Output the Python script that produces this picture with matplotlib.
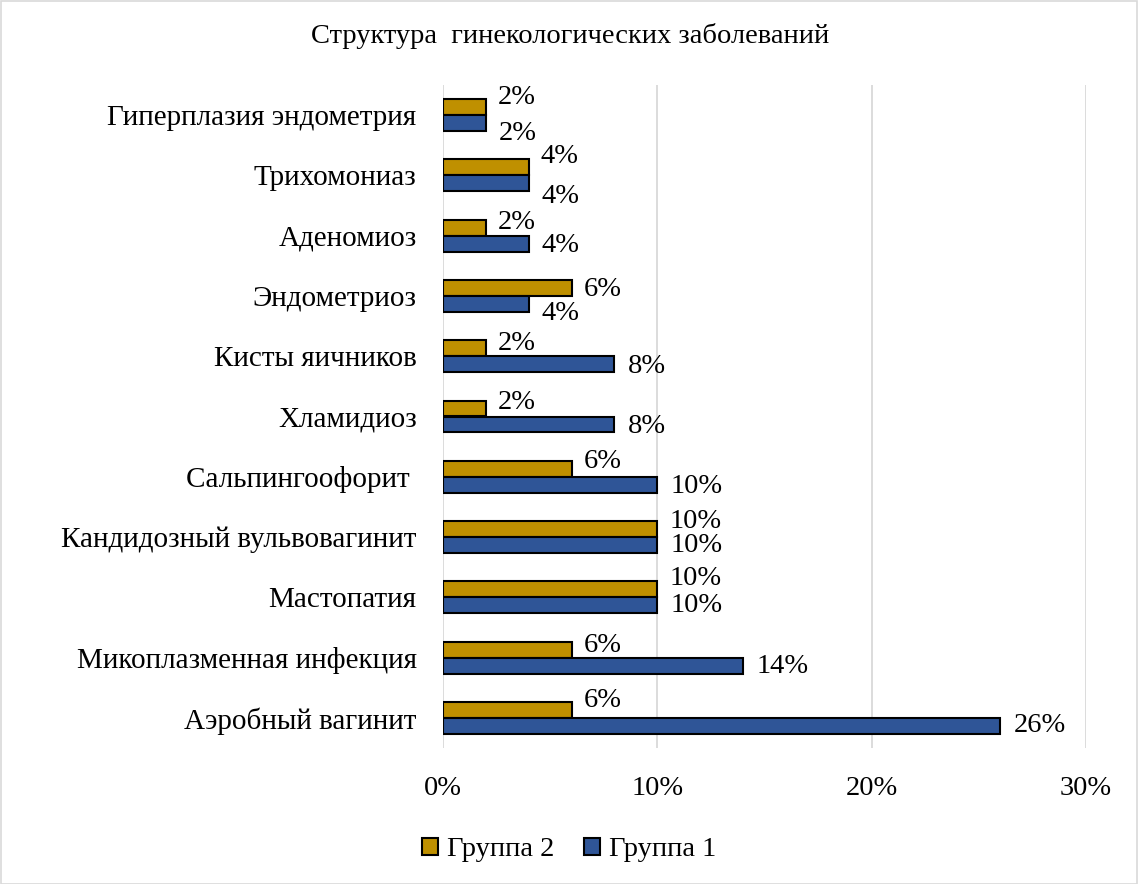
import matplotlib
matplotlib.use("Agg")
import matplotlib.pyplot as plt
from matplotlib.patches import Rectangle
from matplotlib.ticker import FuncFormatter
import numpy as np

plt.rcParams['font.family'] = ['Liberation Serif', 'DejaVu Serif']

categories = ["Гиперплазия эндометрия", "Трихомониаз", "Аденомиоз", "Эндометриоз",
              "Кисты яичников", "Хламидиоз", "Сальпингоофорит ",
              "Кандидозный вульвовагинит", "Мастопатия", "Микоплазменная инфекция",
              "Аэробный вагинит"]
group2 = [2, 4, 2, 6, 2, 2, 6, 10, 10, 6, 6]
group1 = [2, 4, 4, 4, 8, 8, 10, 10, 10, 14, 26]
series_names = ["Группа 2", "Группа 1"]
title = "Структура  гинекологических заболеваний"

# label vertical offsets (pixels, + = down)
off2 = [-10, -11, -5, 2, -5, -6, -7, -8, -11, -4, -9]
off1 = [10, 13, 2, 10, 2, 2, 2, 0, 0, 1, 0]

gold = "#BF9000"
blue = "#2F5597"

W, H = 1138, 884
fig = plt.figure(figsize=(W/100, H/100), dpi=100)
ax = fig.add_axes([443/W, 1-748/H, (1086-443)/W, (748-85)/H])

y = np.arange(len(categories))
h = 0.265
ax.barh(y - h/2, group2, height=h, color=gold, edgecolor="black", linewidth=1.5, label=series_names[0], zorder=3)
ax.barh(y + h/2, group1, height=h, color=blue, edgecolor="black", linewidth=1.5, label=series_names[1], zorder=3)

px = 0.72
fs = 20.5
for i in range(len(categories)):
    ax.annotate(f"{group2[i]}%", (group2[i], y[i] - h/2), xytext=(12*px, -off2[i]*px),
                textcoords="offset points", ha="left", va="center", fontsize=fs)
    ax.annotate(f"{group1[i]}%", (group1[i], y[i] + h/2), xytext=(13*px, -off1[i]*px),
                textcoords="offset points", ha="left", va="center", fontsize=fs)

ax.set_xlim(0, 30)
ax.set_ylim(len(categories) - 0.5, -0.5)
ax.set_xticks([0, 10, 20, 30])
ax.xaxis.set_major_formatter(FuncFormatter(lambda v, p: f"{int(v)}%"))
ax.set_yticks(y)
ax.set_yticklabels(categories)
ax.tick_params(axis="x", length=0, pad=20, labelsize=fs)
ax.tick_params(axis="y", length=0, pad=19, labelsize=21)
ax.grid(axis="x", color="#D9D9D9", linewidth=1.3, zorder=0)
for s in ax.spines.values():
    s.set_visible(False)

fig.text(570/W, 1-36/H, title, ha="center", va="center", fontsize=fs)

leg = fig.legend(loc="center", bbox_to_anchor=(569/W, 1-850/H), ncol=2, frameon=False,
                 fontsize=fs, handlelength=0.55, handleheight=0.55, handletextpad=0.32,
                 columnspacing=1.05)

fig.patches.append(Rectangle((0.5/W, 0.5/H), 1-1.5/W, 1-1.5/H, transform=fig.transFigure,
                             fill=False, edgecolor="#D9D9D9", linewidth=1.2))

fig.savefig("out.png", dpi=100)
